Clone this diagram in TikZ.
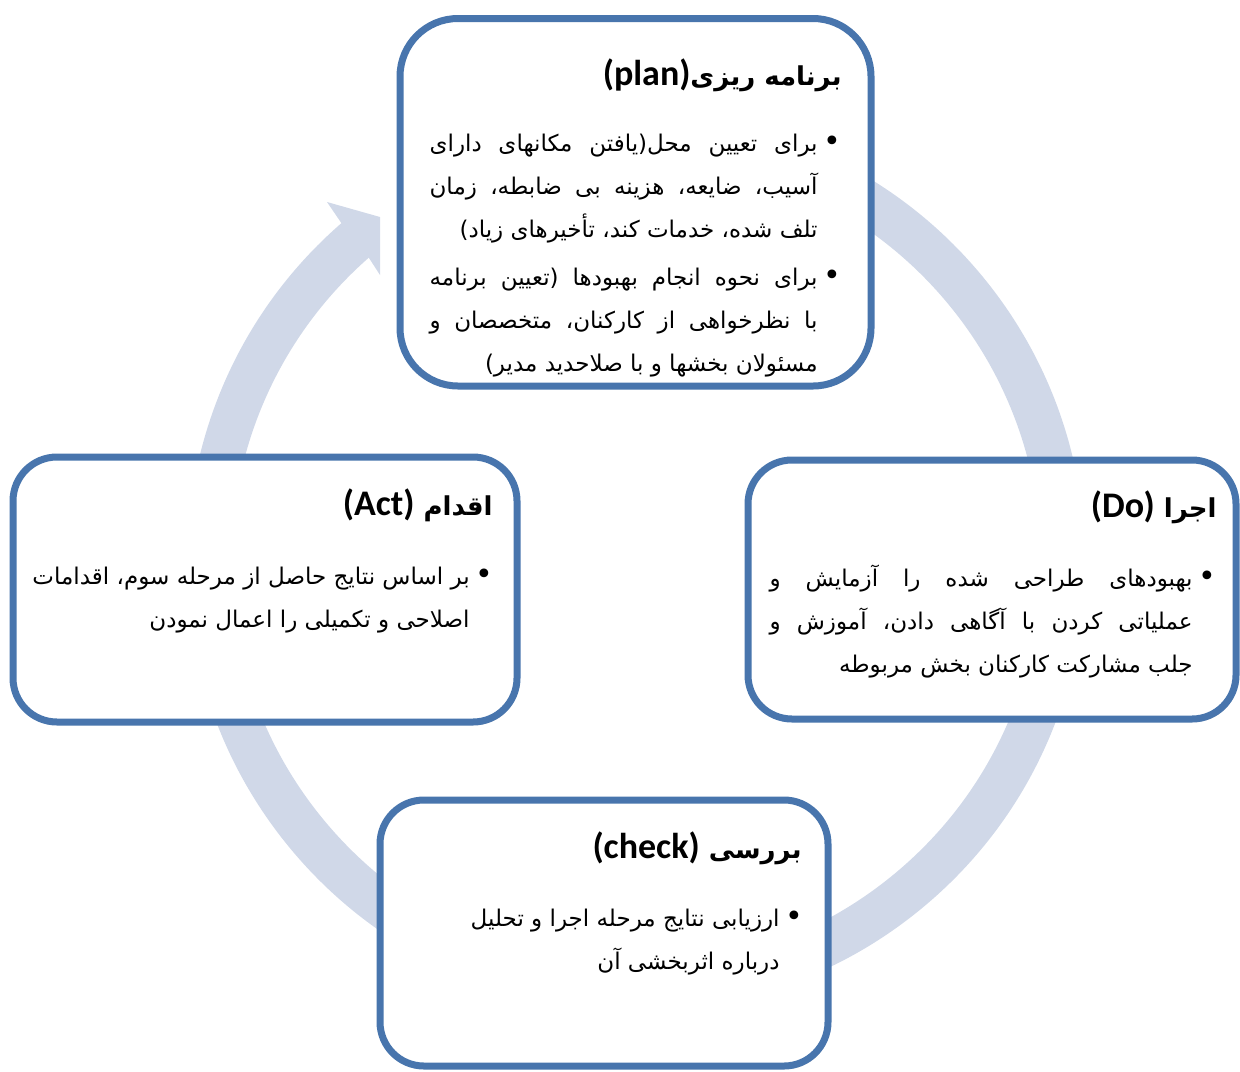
\documentclass[tikz,border=0pt]{standalone}
\usepackage{fontspec}
\usetikzlibrary{shadows}
\TeXXeTstate=1
\newfontfamily\arabicfont[Script=Arabic]{DejaVu Sans}
\newfontfamily\latinfont{Carlito}
\definecolor{boxblue}{RGB}{72,117,173}
\definecolor{ringblue}{RGB}{208,216,232}
% heading: persian part, then latin part
\newcommand\stagehead[2]{\beginR #1\beginL{\latinfont\fontsize{18}{20}\selectfont\bfseries #2}\endL\endR}
% one bullet paragraph, right to left
\newcommand\bulletitem[1]{\noindent\leftskip=0pt\rightskip=0pt\parfillskip=0pt
  \hangindent=-15pt\hangafter=1
  \beginR\hbox to 15pt{\hss\rule{0pt}{14pt}{\fontsize{15}{15}\selectfont\textbullet}\hss}#1\hfill\endR\par}
\newcommand\shortline{\hfil\break}
\tikzset{
  stagebox/.style={draw=boxblue, line width=3.5pt, fill=white, rounded corners=22pt,
    drop shadow={shadow xshift=1pt, shadow yshift=-1.5pt, opacity=.25}},
  headtext/.style={anchor=base east, inner sep=0pt,
    font=\arabicfont\fontsize{13}{18}\selectfont\bfseries},
  bodytext/.style={anchor=north east, inner sep=0pt, text width=#1, align=justify,
    font=\arabicfont\fontsize{11.5}{21.5}\selectfont},
}
\begin{document}
\begin{tikzpicture}[x=0.5pt, y=-0.5pt]
\useasboundingbox (0,0) rectangle (1240,1071);
\coordinate (ring center) at (636,562);

% the cycle arrow
\draw[ringblue, line width=22pt] (ring center) ++(-130:427) arc[start angle=-130, end angle=-471, radius=427];
\fill[ringblue] (342,224) -- (327,202) -- (380,217) -- (380,275) -- (369,258) -- cycle;

% the four stages
\node[stagebox, rounded corners=29pt, minimum width=235.5pt, minimum height=183.75pt] (plan) at (635.5,202.25) {};
\node[stagebox, minimum width=244pt, minimum height=129.5pt] (do) at (992,589.5) {};
\node[stagebox, minimum width=224pt, minimum height=133pt] (check) at (604,933) {};
\node[stagebox, minimum width=252pt, minimum height=132.5pt] (act) at (265,589.5) {};

% plan
\node[headtext] (plan head) at (842,85) {\stagehead{برنامه ریزی}{(plan)}};
\node[bodytext=209pt] (plan item1) at (848,123) {\bulletitem{برای تعیین محل(یافتن مکانهای دارای\linebreak
  آسیب، ضایعه، هزینه بی ضابطه، زمان\linebreak
  تلف شده، خدمات کند، تأخیرهای زیاد)}};
\node[bodytext=209pt] (plan item2) at (848,257) {\bulletitem{برای نحوه انجام بهبودها (تعیین برنامه\linebreak
  با نظرخواهی از کارکنان، متخصصان و\linebreak
  مسئولان بخشها و با صلاحدید مدیر)}};

% do
\node[headtext] (do head) at (1217,517) {\stagehead{اجرا }{(Do)}};
\node[bodytext=226.5pt] (do item) at (1223,558) {\bulletitem{بهبودهای طراحی شده را آزمایش و\linebreak
  عملیاتی کردن با آگاهی دادن، آموزش و\linebreak
  جلب مشارکت کارکنان بخش مربوطه}};

% check
\node[headtext] (check head) at (802,858) {\stagehead{بررسی }{(check)}};
\node[bodytext=205pt] (check item) at (810,898) {\bulletitem{ارزیابی نتایج مرحله اجرا و تحلیل\shortline
  درباره اثربخشی آن}};

% act
\node[headtext] (act head) at (493,515) {\stagehead{اقدام }{(Act)}};
\node[bodytext=239pt] (act item) at (500,556) {\bulletitem{بر اساس نتایج حاصل از مرحله سوم، اقدامات\shortline
  اصلاحی و تکمیلی را اعمال نمودن}};
\end{tikzpicture}
\end{document}
